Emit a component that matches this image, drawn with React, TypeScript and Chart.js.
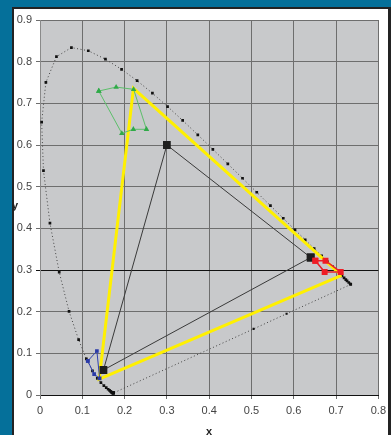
import React, { useEffect, useRef } from "react";
import { Chart, registerables } from "chart.js";

Chart.register(...registerables);

// Spectral locus (CIE 1931 chromaticity)
const locusX = [0.1741, 0.174, 0.1738, 0.1736, 0.1733, 0.173, 0.1726, 0.1721, 0.1714, 0.1703, 0.1689, 0.1669, 0.1644, 0.1611, 0.1566, 0.151, 0.144, 0.1355, 0.1241, 0.1096, 0.0913, 0.0687, 0.0454, 0.0235, 0.0082, 0.0039, 0.0139, 0.0389, 0.0743, 0.1142, 0.1547, 0.1929, 0.2296, 0.2658, 0.3016, 0.3373, 0.3731, 0.4087, 0.4441, 0.4788, 0.5125, 0.5448, 0.5752, 0.6029, 0.627, 0.6482, 0.6658, 0.6801, 0.6915, 0.7006, 0.7079, 0.714, 0.719, 0.723, 0.726, 0.73, 0.7334, 0.7347];
const locusY = [0.005, 0.005, 0.0049, 0.0049, 0.0048, 0.0048, 0.0048, 0.0048, 0.0051, 0.0058, 0.0069, 0.0086, 0.0109, 0.0138, 0.0177, 0.0227, 0.0297, 0.0399, 0.0578, 0.0868, 0.1327, 0.2007, 0.295, 0.4127, 0.5384, 0.6548, 0.7502, 0.812, 0.8338, 0.8262, 0.8059, 0.7816, 0.7543, 0.7243, 0.6923, 0.6589, 0.6245, 0.5896, 0.5547, 0.5202, 0.4866, 0.4544, 0.4242, 0.3965, 0.3725, 0.3514, 0.334, 0.3197, 0.3083, 0.2993, 0.292, 0.2859, 0.2809, 0.277, 0.274, 0.27, 0.2666, 0.2653];

// Purple line closing the locus
const purpleX = [0.7347, 0.583, 0.505, 0.1741];
const purpleY = [0.2653, 0.195, 0.1586, 0.005];

// Black triangle (large squares)
const blackX = [0.64, 0.3, 0.15, 0.64];
const blackY = [0.33, 0.6, 0.06, 0.33];

// Yellow triangle
const yellowX = [0.713, 0.221, 0.14, 0.713];
const yellowY = [0.287, 0.736, 0.038, 0.287];

// Green polygon
const greenX = [0.139, 0.18, 0.2214, 0.2517, 0.2207, 0.1935, 0.139];
const greenY = [0.7295, 0.739, 0.7336, 0.6377, 0.6377, 0.628, 0.7295];

// Red polygon
const redX = [0.651, 0.675, 0.711, 0.673, 0.651];
const redY = [0.3223, 0.3223, 0.295, 0.295, 0.3223];

// Blue polygon
const blueX = [0.113, 0.1345, 0.141, 0.128, 0.113];
const blueY = [0.0816, 0.1056, 0.04, 0.05, 0.0816];

const xTicks = [0, 0.1, 0.2, 0.3, 0.4, 0.5, 0.6, 0.7, 0.8];
const xTickLabels = ["0", "0.1", "0.2", "0.3", "0.4", "0.5", "0.6", "0.7", "0.8"];
const yTicks = [0, 0.1, 0.2, 0.3, 0.4, 0.5, 0.6, 0.7, 0.8, 0.9];
const yTickLabels = ["0", "0.1", "0.2", "0.3", "0.4", "0.5", "0.6", "0.7", "0.8", "0.9"];
const xTitle = "x";
const yTitle = "y";

const pts = (xs: number[], ys: number[]) => xs.map((x, i) => ({ x, y: ys[i] }));

const bgPlugin = {
  id: "bg",
  beforeDraw(chart: any) {
    const { ctx, chartArea: a, width, height } = chart;
    ctx.save();
    ctx.fillStyle = "#05709a";
    ctx.fillRect(0, 0, width, height);
    ctx.fillStyle = "#232323";
    ctx.fillRect(12, 7, width - 12, height - 7);
    ctx.fillStyle = "#ffffff";
    ctx.fillRect(14, 9, width - 17, height - 9);
    ctx.fillStyle = "#c8c9cb";
    ctx.fillRect(a.left, a.top, a.right - a.left, a.bottom - a.top);
    ctx.restore();
  },
  afterDraw(chart: any) {
    const { ctx, chartArea: a } = chart;
    ctx.save();
    ctx.fillStyle = "#222";
    ctx.font = "bold 11px 'Liberation Sans', Arial, sans-serif";
    ctx.textAlign = "center";
    ctx.textBaseline = "alphabetic";
    ctx.fillText(xTitle, (a.left + a.right) / 2, 435);
    ctx.textBaseline = "middle";
    ctx.fillText(yTitle, 15, (a.top + a.bottom) / 2 - 2);
    ctx.restore();
  },
};

export default function App() {
  const ref = useRef<HTMLCanvasElement | null>(null);
  useEffect(() => {
    if (!ref.current) return;
    const font = { family: "'Liberation Sans', Arial, sans-serif", size: 11 };
    const chart = new Chart(ref.current, {
      type: "scatter",
      data: {
        datasets: [
          {
            label: "red",
            data: pts(redX, redY),
            showLine: true,
            borderColor: "#e8202a",
            borderWidth: 1.5,
            backgroundColor: "#ee1c25",
            pointBackgroundColor: "#ee1c25",
            pointBorderWidth: 0,
            pointStyle: "rect",
            pointRadius: 4.2,
            order: 1,
          },
          {
            label: "blue",
            data: pts(blueX, blueY),
            showLine: true,
            borderColor: "#3040b0",
            borderWidth: 1,
            pointBackgroundColor: "#2a3aa8",
            pointBorderWidth: 0,
            pointStyle: "rect",
            pointRadius: 2.6,
            order: 1,
          },
          {
            label: "green",
            data: pts(greenX, greenY),
            showLine: true,
            borderColor: "#5cbf6a",
            borderWidth: 1,
            pointBackgroundColor: "#2faa48",
            pointBorderWidth: 0,
            pointStyle: "triangle",
            pointRadius: 3.2,
            order: 2,
          },
          {
            label: "black",
            data: pts(blackX, blackY),
            showLine: true,
            borderColor: "#3a3a3a",
            borderWidth: 1,
            pointBackgroundColor: "#1e1e1e",
            pointBorderWidth: 0,
            pointStyle: "rect",
            pointRadius: 5.5,
            order: 2,
          },
          {
            label: "yellow",
            data: pts(yellowX, yellowY),
            showLine: true,
            borderColor: "#fff000",
            borderWidth: 3,
            pointRadius: 0,
            order: 3,
          },
          {
            label: "locus",
            data: pts(locusX, locusY),
            showLine: true,
            borderColor: "#444",
            borderWidth: 1,
            borderDash: [1, 2.5],
            pointBackgroundColor: "#111",
            pointBorderWidth: 0,
            pointStyle: "rect",
            pointRadius: 1.9,
            order: 4,
          },
          {
            label: "purple",
            data: pts(purpleX, purpleY),
            showLine: true,
            borderColor: "#444",
            borderWidth: 1,
            borderDash: [1, 2.5],
            pointBackgroundColor: "#111",
            pointBorderWidth: 0,
            pointStyle: "rect",
            pointRadius: (c: any) => (c.dataIndex === 1 || c.dataIndex === 2 ? 1.5 : 0),
            order: 4,
          },
        ],
      },
      options: {
        animation: false,
        responsive: false,
        layout: { padding: { left: 0, top: 20, right: 7.7, bottom: 0 } },
        plugins: { legend: { display: false }, tooltip: { enabled: false } },
        scales: {
          x: {
            type: "linear",
            min: 0,
            max: 0.8,
            afterFit: (s: any) => {
              s.height = 40;
            },
            afterBuildTicks: (s: any) => {
              s.ticks = xTicks.map((v) => ({ value: v }));
            },
            ticks: {
              font,
              color: "#444",
              padding: 5,
              maxRotation: 0,
              callback: (_v: any, i: number) => xTickLabels[i],
            },
            grid: { color: "#6e6e6e", lineWidth: 1, tickLength: 4 },
            border: { color: "#111", width: 1 },
          },
          y: {
            type: "linear",
            min: 0,
            max: 0.9,
            afterFit: (s: any) => {
              s.width = 40;
            },
            afterBuildTicks: (s: any) => {
              s.ticks = yTicks.map((v) => ({ value: v }));
            },
            ticks: {
              font,
              color: "#444",
              padding: 4,
              callback: (_v: any, i: number) => yTickLabels[i],
            },
            grid: {
              color: (c: any) => (c.tick && Math.abs(c.tick.value - 0.3) < 1e-6 ? "#111" : "#6e6e6e"),
              lineWidth: 1,
              tickLength: 4,
            },
            border: { color: "#8a8a8a", width: 1 },
          },
        },
      },
      plugins: [bgPlugin],
    } as any);
    return () => chart.destroy();
  }, []);
  return (
    <div style={{ position: "fixed", left: 0, top: 0, width: 391, height: 435 }}>
      <canvas ref={ref} width={391} height={435} style={{ width: 391, height: 435, display: "block" }} />
    </div>
  );
}
